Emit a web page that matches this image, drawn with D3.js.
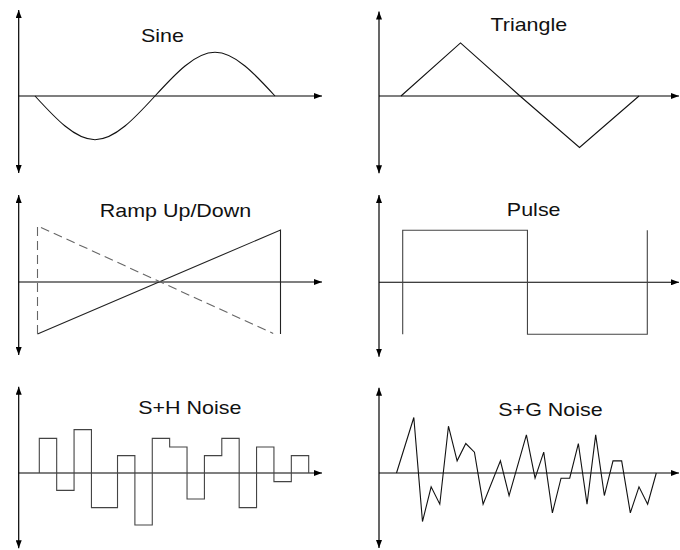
<!DOCTYPE html>
<html><head><meta charset="utf-8">
<script src="https://cdn.jsdelivr.net/npm/d3@7"></script>
<style>body{margin:0;background:#fff}svg{display:block}</style>
</head><body><svg id="c" width="680" height="550"></svg>
<script>
// ---------- data ----------
const titles = ["Sine", "Triangle", "Ramp Up/Down", "Pulse", "S+H Noise", "S+G Noise"];
// Sine: key points (zero, trough, zero, peak, zero)
const sineT = [0, 0.25, 0.5, 0.75, 1];
const sineV = [0, -0.84, 0, 0.84, 0];
// Triangle
const triT = [0, 0.25, 0.5, 0.75, 1];
const triV = [0, 1.02, 0, -0.99, 0];
// Ramp up (solid) and ramp down (dashed)
const rampUpT = [0, 1, 1];
const rampUpV = [-1, 1, -1];
const rampDownT = [0, 0, 0.97];
const rampDownV = [-1, 1.08, -0.99];
// Pulse
const pulseT = [0, 0, 0.51, 0.51, 1, 1];
const pulseV = [-1, 1, 1, -1, -1, 1];
// Sample & hold noise: step edges and held levels
const shEdges = [0, 1, 2, 3, 4.5, 5.5, 6.5, 7.5, 8.5, 9.5, 10.5, 11.5, 12.5, 13.5, 14.5, 15.5];
const shLevels = [4, -2, 5, -4, 2, -6, 4, 3, -3, 2, 4, -4, 3, -1, 2];
// Sample & glide noise
const sgT = [0, 2, 3, 4, 5, 6, 7, 8, 9, 10, 12, 13, 15, 16, 17, 18, 19, 20, 21, 22, 23, 24, 25, 26, 27, 28, 29, 30];
const sgV = [0, 6.4, -5.6, -1.6, -3.6, 5.4, 1.4, 3.4, 2.4, -3.6, 1.4, -2.6, 4.4, -0.6, 2.4, -4.6, -0.6, -0.6, 3.4, -3.6, 4.4, -2.6, 1.4, 1.4, -4.6, -1.6, -3.6, 0];

// ---------- layout ----------
const panels = [
  {yx: 18.7, ay: 96,    top: 10,    bot: 173,   tip: 322, xr: [35, 275],     xd: [0, 1],    yd: [-1, 1], tx: 162.5, ty: 42},
  {yx: 379,  ay: 96,    top: 11.5,  bot: 173.3, tip: 679, xr: [401, 639],    xd: [0, 1],    yd: [-1, 1], tx: 528.8, ty: 31},
  {yx: 18.7, ay: 282,   top: 195,   bot: 355,   tip: 322, xr: [37.5, 280.5], xd: [0, 1],    yd: [-1, 1], tx: 175.5, ty: 217},
  {yx: 379,  ay: 282.3, top: 195,   bot: 356.7, tip: 679, xr: [402.7, 647.3],xd: [0, 1],    yd: [-1, 1], tx: 533.7, ty: 216},
  {yx: 18.7, ay: 473,   top: 386.7, bot: 548.3, tip: 322, xr: [39.3, 308.7], xd: [0, 15.5], yd: [-6, 6], tx: 189.8, ty: 414},
  {yx: 379,  ay: 473,   top: 387.7, bot: 548,   tip: 679, xr: [396.5, 656.3],xd: [0, 30],   yd: [-6, 6], tx: 550.5, ty: 415.5}
];
const AMP = 52;

const svg = d3.select("#c");
const defs = svg.append("defs");
defs.append("marker").attr("id", "arr").attr("viewBox", "0 0 8 6")
  .attr("refX", 8).attr("refY", 3).attr("markerWidth", 8).attr("markerHeight", 6)
  .attr("markerUnits", "userSpaceOnUse").attr("orient", "auto-start-reverse")
  .append("path").attr("d", "M0,0L8,3L0,6Z").attr("fill", "#000");

const series = [
  [{t: sineT, v: sineV, curve: d3.curveNatural, color: "#111"}],
  [{t: triT, v: triV, curve: d3.curveLinear, color: "#111"}],
  [{t: rampUpT, v: rampUpV, curve: d3.curveLinear, color: "#222"},
   {t: rampDownT, v: rampDownV, curve: d3.curveLinear, color: "#666", dash: "9,5"}],
  [{t: pulseT, v: pulseV, curve: d3.curveLinear, color: "#444"}],
  [{t: [0].concat(shEdges.slice(0, -1), [shEdges[shEdges.length - 1], shEdges[shEdges.length - 1]]),
    v: [0].concat(shLevels, [shLevels[shLevels.length - 1], 0]), curve: d3.curveStepAfter, color: "#444"}],
  [{t: sgT, v: sgV, curve: d3.curveLinear, color: "#111"}]
];

panels.forEach((p, i) => {
  const g = svg.append("g");
  const x = d3.scaleLinear().domain(p.xd).range(p.xr);
  const span = p.yd[1];
  const y = d3.scaleLinear().domain([-span, span]).range([p.ay + AMP, p.ay - AMP]);

  // y axis with arrows at both ends
  g.append("line").attr("x1", p.yx).attr("x2", p.yx).attr("y1", p.bot).attr("y2", p.top)
    .attr("stroke", "#000").attr("stroke-width", 1.2)
    .attr("marker-start", "url(#arr)").attr("marker-end", "url(#arr)");
  // x axis (at y = 0 of the scale)
  g.append("line").attr("x1", p.yx).attr("x2", p.tip).attr("y1", y(0)).attr("y2", y(0))
    .attr("stroke", "#000").attr("stroke-width", 1.1)
    .attr("marker-end", "url(#arr)");

  series[i].forEach(s => {
    const pts = s.t.map((t, k) => [t, s.v[k]]);
    const line = d3.line().x(d => x(d[0])).y(d => y(d[1])).curve(s.curve);
    g.append("path").attr("d", line(pts)).attr("fill", "none")
      .attr("stroke", s.color).attr("stroke-width", 1.1)
      .attr("stroke-dasharray", s.dash || null);
  });

  g.append("text").text(titles[i])
    .attr("transform", `translate(${p.tx},${p.ty}) scale(1.13,1)`)
    .attr("text-anchor", "middle")
    .attr("font-family", "'Liberation Sans', Arial, Helvetica, sans-serif")
    .attr("font-size", 19).attr("fill", "#111");
});
</script>
</body></html>
